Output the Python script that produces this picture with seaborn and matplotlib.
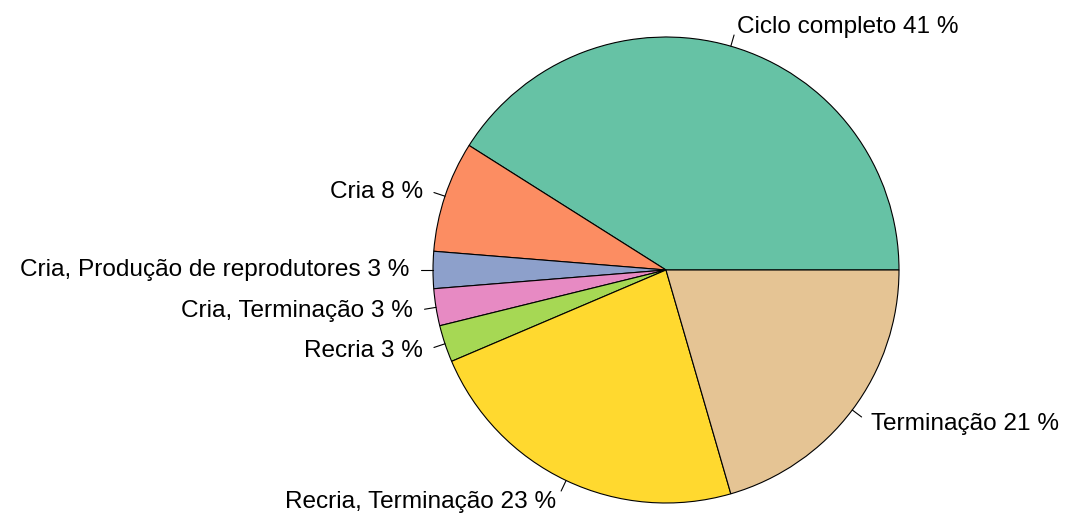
import numpy as np
import matplotlib
matplotlib.use("Agg")
import matplotlib.pyplot as plt
import seaborn as sns

categories = ["Ciclo completo", "Cria", "Cria, Produção de reprodutores",
              "Cria, Terminação", "Recria", "Recria, Terminação", "Terminação"]
counts = [16, 3, 1, 1, 1, 9, 8]

total = sum(counts)
percents = [int(np.floor(100 * c / total + 0.5)) for c in counts]
labels = [f"{c} {p} %" for c, p in zip(categories, percents)]

sns.set_theme(style="white")
plt.rcParams['font.family'] = ['Liberation Sans', 'DejaVu Sans']
colors = sns.color_palette("Set2", len(counts))

W, H = 1069, 513
cx, cy, r = 666, 270, 233
fig = plt.figure(figsize=(W / 100, H / 100), dpi=100)
ax = fig.add_axes([0, 0, 1, 1])
ax.axis("off")

wedges, texts = ax.pie(counts, colors=colors, startangle=0, counterclock=True,
                       radius=1.0, center=(0, 0),
                       wedgeprops=dict(edgecolor="black", linewidth=0.8),
                       labels=labels, labeldistance=1.1,
                       textprops=dict(fontsize=17.6, color="black"))
ax.set_xlim(-cx / r, (W - cx) / r)
ax.set_ylim(-(H - cy) / r, cy / r)
ax.set_aspect("auto")

for t in texts:
    t.set_va("center")
    x, y = t.get_position()
    if y > 0:
        t.set_position((x, y - 3.5 / r))

for w in wedges:
    ang = np.deg2rad((w.theta1 + w.theta2) / 2)
    x, y = np.cos(ang), np.sin(ang)
    ax.plot([x, 1.05 * x], [y, 1.05 * y], color="black", linewidth=0.8)

fig.savefig("out.png", dpi=100, facecolor="white")
